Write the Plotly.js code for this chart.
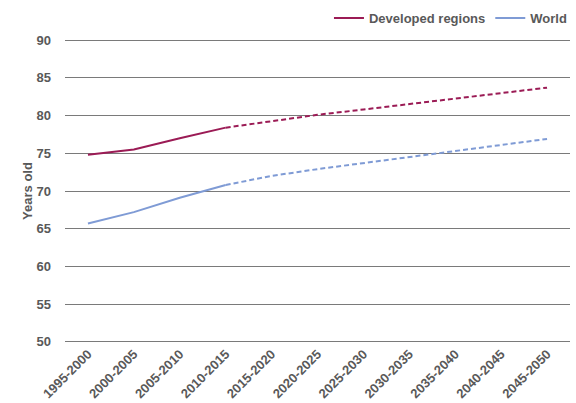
<!DOCTYPE html>
<html>
<head>
<meta charset="utf-8">
<script src="https://cdn.plot.ly/plotly-3.0.1.min.js"></script>
<style>html,body{margin:0;padding:0;background:#fff;}#chart{width:576px;height:403px;}</style>
</head>
<body>
<div id="chart"></div>
<script>
const periods = ["1995-2000","2000-2005","2005-2010","2010-2015","2015-2020","2020-2025","2025-2030","2030-2035","2035-2040","2040-2045","2045-2050"];
const developedHist = [74.8, 75.5, 77.0, 78.4];
const developedProj = [78.4, 79.3, 80.1, 80.8, 81.5, 82.2, 82.9, 83.7];
const worldHist = [65.7, 67.2, 69.1, 70.8];
const worldProj = [70.8, 72.0, 72.9, 73.7, 74.5, 75.3, 76.1, 76.9];
const histPeriods = periods.slice(0, 4);
const projPeriods = periods.slice(3);
const yTicks = [50, 55, 60, 65, 70, 75, 80, 85, 90];

const devColor = "#9b1b55";
const worldColor = "#7f9bd5";
const FAM = "Liberation Sans, Arial, sans-serif";
const TXT = "#595959";

const traces = [
  {x: histPeriods, y: developedHist, name: "Developed regions", mode: "lines", line: {color: devColor, width: 2}, legendgroup: "d"},
  {x: histPeriods, y: worldHist, name: "World", mode: "lines", line: {color: worldColor, width: 2}, legendgroup: "w"},
  {x: projPeriods, y: developedProj, name: "Developed regions", mode: "lines", line: {color: devColor, width: 2, dash: "5px,3px"}, showlegend: false, legendgroup: "d"},
  {x: projPeriods, y: worldProj, name: "World", mode: "lines", line: {color: worldColor, width: 2, dash: "5px,3px"}, showlegend: false, legendgroup: "w"}
];

const layout = {
  width: 576, height: 403,
  margin: {l: 65, r: 6, t: 39, b: 60, pad: 0, autoexpand: false},
  paper_bgcolor: "#fff", plot_bgcolor: "#fff",
  font: {family: FAM, size: 13, color: TXT},
  showlegend: true,
  legend: {orientation: "h", xref: "container", yref: "container", x: 0.993, xanchor: "right", y: 0.955, yanchor: "middle",
           font: {family: FAM, size: 13, color: TXT, weight: "bold"},
           itemwidth: 30, tracegroupgap: 0},
  xaxis: {type: "category", categoryorder: "array", categoryarray: periods, tickangle: -45,
          showgrid: false, showline: false, zeroline: false, ticks: "",
          tickfont: {family: FAM, size: 13, color: TXT, weight: "bold"},
          range: [-0.5, 10.5]},
  yaxis: {range: [49.85, 90.15], tickvals: yTicks, showgrid: true, gridcolor: "#7a7a7a", gridwidth: 1,
          zeroline: false, showline: false, ticks: "", ticklabelstandoff: 13,
          tickfont: {family: FAM, size: 13, color: TXT, weight: "bold"},
          title: {text: "Years old", standoff: 0, font: {family: FAM, size: 13, color: TXT, weight: "bold"}}}
};

Plotly.newPlot("chart", traces, layout, {displayModeBar: false, staticPlot: true});
</script>
</body>
</html>
